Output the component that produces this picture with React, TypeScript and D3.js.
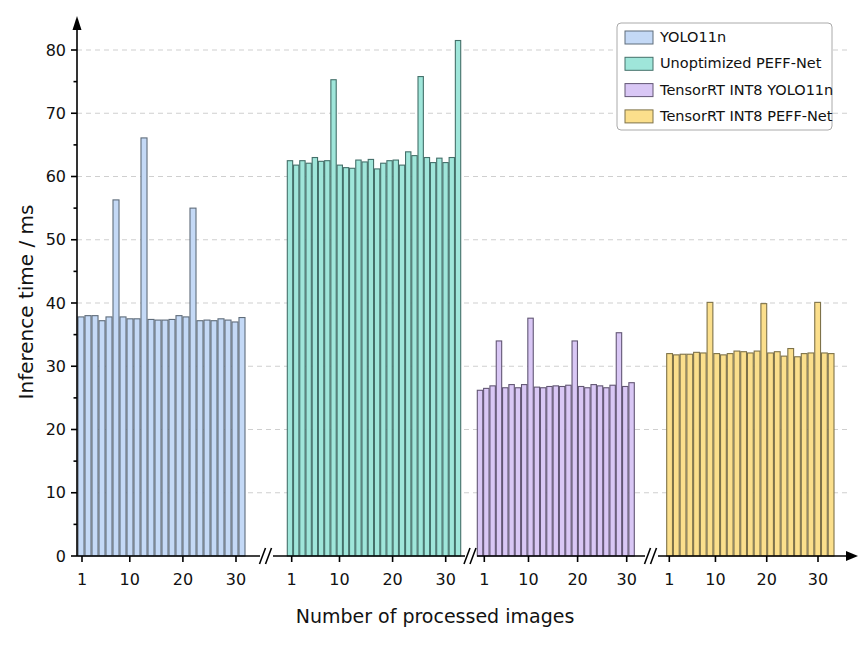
import * as d3 from "d3";
import React from "react";

// inference time per processed image, ms
const yoloTimes = [37.8, 38.0, 38.0, 37.2, 37.8, 56.3, 37.8, 37.5, 37.5, 66.1, 37.4, 37.3, 37.3, 37.4, 38.0, 37.8, 55.0, 37.2, 37.3, 37.2, 37.5, 37.3, 37.0, 37.7];
const peffTimes = [62.5, 61.8, 62.5, 62.1, 63.0, 62.4, 62.5, 75.3, 61.8, 61.4, 61.3, 62.6, 62.3, 62.7, 61.2, 62.1, 62.5, 62.6, 61.8, 63.9, 63.3, 75.8, 63.0, 62.2, 62.9, 62.2, 63.0, 81.5];
const trtYoloTimes = [26.2, 26.5, 26.9, 34.0, 26.6, 27.1, 26.6, 27.1, 37.6, 26.7, 26.6, 26.8, 26.9, 26.8, 27.0, 34.0, 26.8, 26.6, 27.1, 26.9, 26.6, 27.0, 35.3, 26.8, 27.4];
const trtPeffTimes = [32.0, 31.8, 31.9, 31.9, 32.2, 32.1, 40.1, 32.0, 31.8, 32.0, 32.4, 32.3, 32.1, 32.4, 39.9, 32.1, 32.3, 31.6, 32.8, 31.5, 32.0, 32.1, 40.1, 32.1, 32.0];

const seriesNames = ["YOLO11n", "Unoptimized PEFF-Net", "TensorRT INT8 YOLO11n", "TensorRT INT8 PEFF-Net"];
const xTicks = [1, 10, 20, 30];
const yTicks = [0, 10, 20, 30, 40, 50, 60, 70, 80];

const width = 859;
const height = 649;
const font = "'DejaVu Sans', sans-serif";

const fills = ["#c4d9f6", "#9fe6da", "#d9c7f5", "#fbdf8c"];
const strokes = ["#5f6c7a", "#44706a", "#625674", "#7e7249"];

// pixel layout of each broken x-axis panel: tick 1, tick 30, bar extent
const panels = [
  { t1: 82, t30: 236, x0: 78, x1: 245 },
  { t1: 291.7, t30: 445.7, x0: 287.3, x1: 460.7 },
  { t1: 484.3, t30: 626.7, x0: 477.3, x1: 634.3 },
  { t1: 669.3, t30: 818, x0: 666.7, x1: 834 },
];
const axisSegments = [
  [77, 260],
  [273, 465],
  [477, 645],
  [658, 848],
];
const breaks = [266.5, 471, 651.5];

const axisX = 77;
const y = d3.scaleLinear().domain([0, 80]).range([556, 50]);

export default function App() {
  const data = [yoloTimes, peffTimes, trtYoloTimes, trtPeffTimes];
  const minorTicks = d3.range(5, 85, 10);

  return (
    <svg
      width={width}
      height={height}
      viewBox={`0 0 ${width} ${height}`}
      style={{ position: "absolute", left: 0, top: 0, background: "#fff" }}
      fontFamily={font}
    >
      {/* grid */}
      <g stroke="#cfcfcf" strokeDasharray="5,4" strokeWidth={1}>
        {yTicks.slice(1).map((t) => (
          <line key={t} x1={axisX} x2={848} y1={y(t)} y2={y(t)} />
        ))}
      </g>

      {/* bars */}
      {data.map((values, s) => {
        const p = panels[s];
        const band = d3
          .scaleBand<number>()
          .domain(d3.range(values.length))
          .range([p.x0, p.x1])
          .paddingInner(0.14);
        return (
          <g key={s} fill={fills[s]} stroke={strokes[s]} strokeWidth={1.1}>
            {values.map((v, i) => (
              <rect
                key={i}
                x={band(i)}
                y={y(v)}
                width={band.bandwidth()}
                height={y(0) - y(v)}
              />
            ))}
          </g>
        );
      })}

      {/* y axis */}
      <g stroke="#000" strokeWidth={1.6}>
        <line x1={axisX} x2={axisX} y1={556} y2={26} />
        {yTicks.map((t) => (
          <line key={t} x1={axisX - 6} x2={axisX} y1={y(t)} y2={y(t)} />
        ))}
        {minorTicks.map((t) => (
          <line key={t} x1={axisX - 3.5} x2={axisX} y1={y(t)} y2={y(t)} />
        ))}
      </g>
      <path d={`M${axisX},16 L${axisX - 4.5},30 L${axisX + 4.5},30 Z`} fill="#000" />
      <g fontSize={16} textAnchor="end" fill="#111">
        {yTicks.map((t) => (
          <text key={t} x={66} y={y(t)} dy="0.35em">
            {t}
          </text>
        ))}
      </g>

      {/* x axis */}
      <g stroke="#000" strokeWidth={1.6}>
        {axisSegments.map(([a, b], i) => (
          <line key={i} x1={a} x2={b} y1={556} y2={556} />
        ))}
        {breaks.map((bx, i) => (
          <g key={i}>
            <line x1={bx - 7} x2={bx - 1} y1={564} y2={548} />
            <line x1={bx - 1} x2={bx + 5} y1={564} y2={548} />
          </g>
        ))}
      </g>
      <path d="M846,551 L858,556 L846,561 Z" fill="#000" />
      {panels.map((p, s) => {
        const x = d3.scaleLinear().domain([1, 30]).range([p.t1, p.t30]);
        return (
          <g key={s}>
            {xTicks.map((t) => (
              <g key={t} transform={`translate(${x(t)},556)`}>
                <line y2={6} stroke="#000" strokeWidth={1.6} />
                <text y={29} fontSize={16} textAnchor="middle" fill="#111">
                  {t}
                </text>
              </g>
            ))}
          </g>
        );
      })}

      {/* axis titles */}
      <text x={435} y={623} fontSize={19} textAnchor="middle" fill="#111">
        Number of processed images
      </text>
      <text
        transform="translate(33,302) rotate(-90)"
        fontSize={20}
        textAnchor="middle"
        fill="#111"
      >
        Inference time / ms
      </text>

      {/* legend */}
      <g>
        <rect x={617} y={23} width={215} height={107} rx={4} fill="#fff" stroke="#aaa" strokeWidth={1} />
        {seriesNames.map((name, i) => (
          <g key={name} transform={`translate(625,${37 + i * 26.3})`}>
            <rect x={0} y={-6} width={28} height={13} fill={fills[i]} stroke={strokes[i]} />
            <text x={35} y={0} dy="0.35em" fontSize={14.5} fill="#111">
              {name}
            </text>
          </g>
        ))}
      </g>
    </svg>
  );
}
